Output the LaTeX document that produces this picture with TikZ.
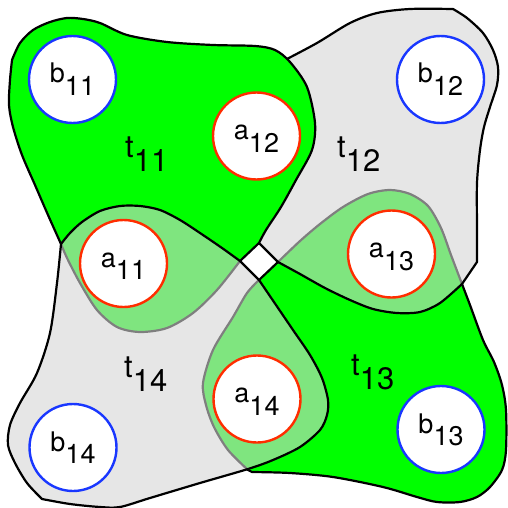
\documentclass[tikz,border=0pt]{standalone}
\usepackage{fontspec}
\setmainfont{TeX Gyre Heros}
\definecolor{TGreen}{RGB}{0,255,0}
\definecolor{TGray}{RGB}{213,213,213}
\definecolor{ARed}{RGB}{255,45,0}
\definecolor{BBlue}{RGB}{25,55,255}
\newcommand{\lbl}[2]{#1\raisebox{-0.47em}{#2}}

\begin{document}
\begin{tikzpicture}[x=1pt,y=-1pt,
blob/.style={draw=black,line width=2.2pt,line join=round},
greenblob/.style={blob,fill=TGreen},
grayblob/.style={blob,fill=TGray,fill opacity=0.6},
vertex/.style={circle,fill=white,line width=2.4pt,minimum size=87pt,inner sep=0pt,
font=\fontsize{27}{30}\selectfont,text height=19pt,text depth=12pt},
avert/.style={vertex,draw=ARed},
bvert/.style={vertex,draw=BBlue},
tlabel/.style={anchor=base west,inner sep=0pt,font=\fontsize{31}{36}\selectfont}
]
\useasboundingbox (0,0) rectangle (507,508);
\coordinate (T) at (259,243);
\coordinate (L) at (240,261);
\coordinate (R) at (278,262);
\coordinate (B) at (259,280);

% t13
\draw[greenblob] (B) -- (R) -- plot[smooth] coordinates {(278,262) (300,241) (320,224) (343,207)
  (368,194) (390,190) (410,194) (428,206) (441,228) (451,255) (462,284) (470,305) (483,340)
  (494,362) (502,385) (506,410) (506,450) (502,470) (490,487) (477,497) (460,502) (437,502)
  (417,497) (383,487) (333,477) (290,473) (252,472)} -- (248,470)
  -- plot[smooth] coordinates {(248,470) (228,450) (214,427) (206,405) (203,383) (213,350)
  (233,317) (247,293) (259,280)} -- cycle;
% t12
\draw[grayblob] (T) -- (R) -- plot[smooth] coordinates {(278,262) (300,274) (325,288) (350,300)
  (373,309) (397,313) (420,312) (440,303) (462,284)} -- (477,262)
  -- plot[smooth] coordinates {(477,262) (477,230) (477,183) (480,150) (484,127) (490,107)
  (497,85) (498,67) (493,50) (483,33) (467,18) (453,9)}
  -- plot[smooth] coordinates {(453,9) (410,9) (377,13) (350,23) (317,43) (285,60)}
  -- (265,72) -- (256,230) -- cycle;
% t11
\draw[greenblob] (T) -- (L) -- plot[smooth] coordinates {(240,261) (217,290) (193,313) (167,328)
  (140,332) (117,327) (97,310) (80,283) (67,258) (61,244)}
  -- plot[smooth] coordinates {(61,244) (48,215) (35,185) (22,155) (13,127) (9,105) (10,80) (12,60)}
  -- plot[smooth] coordinates {(12,60) (20,43) (33,30) (50,22) (67,18) (83,19) (100,23) (127,35)
  (167,42) (213,45) (255,46) (275,50) (290,62) (307,87) (315,123) (312,150) (296,180)
  (281,207) (266,230) (259,243)} -- cycle;
% t14
\draw[grayblob] (L) -- (B) -- plot[smooth] coordinates {(259,280) (276,305) (293,330) (310,355)
  (322,378) (328,400) (327,415) (320,430) (300,447) (273,460) (248,469) (200,483) (150,498)
  (120,507) (100,507) (70,504) (42,499)}
  -- plot[smooth] coordinates {(42,499) (27,483) (15,463) (8,445) (10,425) (20,403) (37,373)
  (50,333) (57,283) (61,244)}
  -- plot[smooth] coordinates {(61,244) (70,233) (82,222) (100,211) (120,206) (140,206)
  (160,210) (180,220) (200,233) (222,248) (240,261)} -- cycle;

\node[bvert] (b11) at (72.5,79.5) {\lbl{b}{11}};
\node[bvert] (b12) at (440.5,79.5) {\lbl{b}{12}};
\node[bvert] (b13) at (441,429.5) {\lbl{b}{13}};
\node[bvert] (b14) at (73,447.5) {\lbl{b}{14}};
\node[avert] (a11) at (123.5,263.5) {\lbl{a}{11}};
\node[avert] (a12) at (256.5,136) {\lbl{a}{12}};
\node[avert] (a13) at (391.5,254) {\lbl{a}{13}};
\node[avert] (a14) at (257,399) {\lbl{a}{14}};

\node[tlabel] (t11) at (125,157) {\lbl{t}{11}};
\node[tlabel] (t12) at (337,157) {\lbl{t}{12}};
\node[tlabel] (t13) at (351,375) {\lbl{t}{13}};
\node[tlabel] (t14) at (124,377) {\lbl{t}{14}};
\end{tikzpicture}
\end{document}
